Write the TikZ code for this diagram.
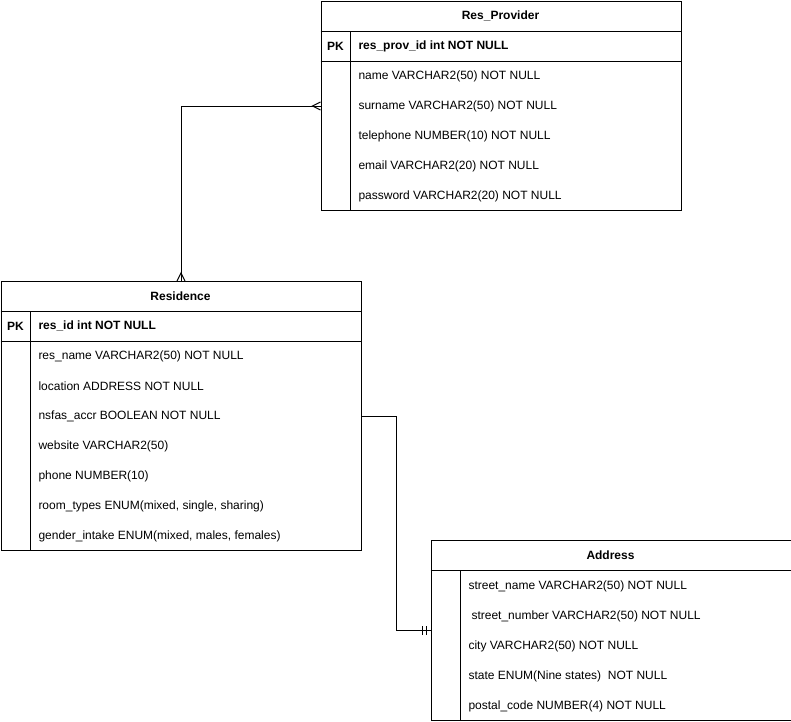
\documentclass[tikz,border=0pt]{standalone}
\usepackage{fontspec}
\setmainfont{Liberation Sans}
\begin{document}
\begin{tikzpicture}[x=1pt,y=-1pt,line width=1pt,
  every node/.style={font=\fontsize{12}{14}\selectfont,inner sep=0pt},
  tbl/.style={draw,fill=white,anchor=north west,inner sep=0pt},
  hdr/.style={font=\fontsize{12}{14}\selectfont\bfseries},
  pk/.style={font=\fontsize{12}{14}\selectfont\bfseries},
  fld/.style={anchor=west},
  keyfld/.style={anchor=west,font=\fontsize{12}{14}\selectfont\bfseries},
  rel/.style={draw,line width=1pt}]
\useasboundingbox (0,0) rectangle (791,721);

% Res_Provider
\node[tbl,minimum width=360pt,minimum height=209pt] (rp) at (320.5,1) {};
\draw (320.5,31) -- (680.5,31) (320.5,61) -- (680.5,61) (350.5,31) -- (350.5,210);
\node[hdr] (rpT) at (500.5,16) {Res\_Provider};
\node[pk] (rpPK) at (335.5,46) {PK};
\node[keyfld] (rp0) at (358,46) {res\_prov\_id int NOT NULL};
\node[fld] (rp1) at (358,76) {name VARCHAR2(50) NOT NULL};
\node[fld] (rp2) at (358,106) {surname VARCHAR2(50) NOT NULL};
\node[fld] (rp3) at (358,136) {telephone NUMBER(10) NOT NULL};
\node[fld] (rp4) at (358,166) {email VARCHAR2(20) NOT NULL};
\node[fld] (rp5) at (358,196) {password VARCHAR2(20) NOT NULL};

% Residence
\node[tbl,minimum width=360pt,minimum height=269pt] (rs) at (0.5,281) {};
\draw (0.5,311) -- (360.5,311) (0.5,341) -- (360.5,341) (30.5,311) -- (30.5,550);
\node[hdr] (rsT) at (180.5,296) {Residence};
\node[pk] (rsPK) at (15.5,326) {PK};
\node[keyfld] (rs0) at (38,326) {res\_id int NOT NULL};
\node[fld] (rs1) at (38,356) {res\_name VARCHAR2(50) NOT NULL};
\node[fld] (rs2) at (38,386) {location ADDRESS NOT NULL};
\node[fld] (rs3) at (38,416) {nsfas\_accr BOOLEAN NOT NULL};
\node[fld] (rs4) at (38,446) {website VARCHAR2(50)};
\node[fld] (rs5) at (38,476) {phone NUMBER(10)};
\node[fld] (rs6) at (38,506) {room\_types ENUM(mixed, single, sharing)};
\node[fld] (rs7) at (38,536) {gender\_intake ENUM(mixed, males, females)};

% Address
\node[tbl,minimum width=360pt,minimum height=180pt] (ad) at (430.5,540) {};
\draw (430.5,570) -- (790.5,570) (460.5,570) -- (460.5,720);
\node[hdr] (adT) at (610.5,555) {Address};
\node[fld] (ad1) at (468,586) {street\_name VARCHAR2(50) NOT NULL};
\node[fld] (ad2) at (471,616) {street\_number VARCHAR2(50) NOT NULL};
\node[fld] (ad3) at (468,646) {city VARCHAR2(50) NOT NULL};
\node[fld] (ad4) at (468,676) {state ENUM(Nine states)\ \ NOT NULL};
\node[fld] (ad5) at (468,706) {postal\_code NUMBER(4) NOT NULL};

% Relations
\draw[rel] (rp.west) -| (rs.north);
\draw[rel] (rp.west) ++(0,-4) -- ++(-8,4) -- ++(8,4);
\draw[rel] (rs.north) ++(-4,0) -- ++(4,-8) -- ++(4,8);

\draw[rel] (rs.east) -- ++(35,0) |- (ad.west);
\draw[rel] (ad.west) ++(-8,-4.5) -- ++(0,9);
\draw[rel] (ad.west) ++(-4.5,-4.5) -- ++(0,9);
\end{tikzpicture}
\end{document}
